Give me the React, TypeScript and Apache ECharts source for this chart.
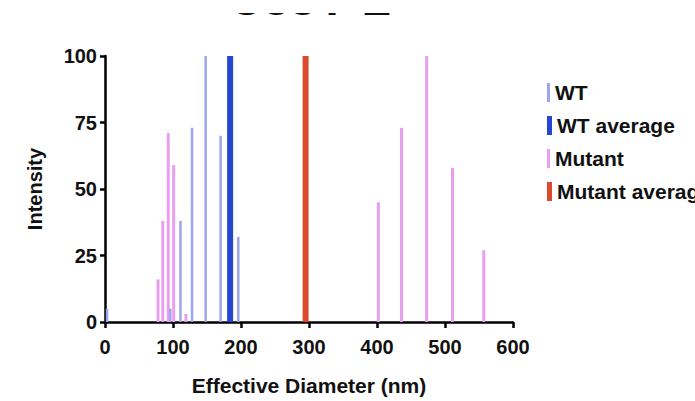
import React, { useEffect, useRef } from "react";
import * as echarts from "echarts";

const TITLE = "C33Y-L";
const X_TICKS = [0, 100, 200, 300, 400, 500, 600];
const Y_TICKS = [0, 25, 50, 75, 100];
const wtDiameter = [3, 96, 111, 128, 148, 170, 196];
const wtIntensity = [5, 5, 38, 73, 100, 70, 32];
const wtAvgDiameter = [184];
const wtAvgIntensity = [100];
const mutDiameter = [78, 85, 93, 101, 119, 402, 436, 473, 511, 557];
const mutIntensity = [16, 38, 71, 59, 3, 45, 73, 100, 58, 27];
const mutAvgDiameter = [295];
const mutAvgIntensity = [100];

const FONT = "'Liberation Sans', Arial, Helvetica, sans-serif";

function pairs(xs: number[], ys: number[]) {
  return xs.map((x, i) => [x, ys[i]]);
}

function barSeries(name: string, data: number[][], color: string, w: number, z: number) {
  return {
    type: "custom",
    name,
    data,
    z,
    encode: { x: 0, y: 1 },
    itemStyle: { color },
    renderItem: (params: any, api: any) => {
      const x = api.value(0);
      const y = api.value(1);
      const top = api.coord([x, y]);
      const base = api.coord([x, 0]);
      return {
        type: "rect",
        shape: { x: top[0] - w / 2, y: top[1], width: w, height: base[1] - top[1] },
        style: { fill: color },
      };
    },
  };
}

export default function App() {
  const ref = useRef<HTMLDivElement>(null);
  useEffect(() => {
    if (!ref.current) return;
    const chart = echarts.init(ref.current, null, { renderer: "svg" });
    const legendBase = {
      orient: "vertical",
      left: 542,
      itemGap: 14,
      itemHeight: 19,
      textStyle: { fontFamily: FONT, fontSize: 21, fontWeight: "bold", color: "#111" },
      icon: "rect",
    };
    chart.setOption({
      animation: false,
      backgroundColor: "#fff",
      graphic: [
        {
          type: "text",
          left: 228,
          top: -26,
          z: 1,
          style: {
            text: TITLE,
            font: `bold 48px ${FONT}`,
            fill: "#111",
          },
        },
        {
          type: "rect",
          left: 200,
          top: 0,
          z: 2,
          shape: { width: 230, height: 13 },
          style: { fill: "#fff" },
        },
      ],
      grid: { left: 105, right: 182, top: 56, bottom: 74, containLabel: false },
      legend: [
        { ...legendBase, top: 77, itemWidth: 3, data: ["WT"] },
        { ...legendBase, top: 110, itemWidth: 5, data: ["WT average"] },
        { ...legendBase, top: 143, itemWidth: 3, data: ["Mutant"] },
        { ...legendBase, top: 176, itemWidth: 5, data: ["Mutant average"] },
      ],
      xAxis: {
        type: "value",
        min: X_TICKS[0],
        max: X_TICKS[X_TICKS.length - 1],
        interval: 100,
        name: "Effective Diameter (nm)",
        nameLocation: "middle",
        nameGap: 53,
        nameTextStyle: { fontFamily: FONT, fontSize: 21, fontWeight: "bold", color: "#111" },
        axisLine: { show: true, onZero: false, lineStyle: { color: "#000", width: 2.5 } },
        axisTick: { show: true, length: 6, lineStyle: { color: "#000", width: 2.5 } },
        axisLabel: { margin: 15, fontFamily: FONT, fontSize: 20, fontWeight: "bold", color: "#111" },
        splitLine: { show: false },
      },
      yAxis: {
        type: "value",
        min: Y_TICKS[0],
        max: Y_TICKS[Y_TICKS.length - 1],
        interval: 25,
        name: "Intensity",
        nameLocation: "middle",
        nameGap: 60,
        nameTextStyle: { fontFamily: FONT, fontSize: 20, fontWeight: "bold", color: "#111" },
        axisLine: { show: true, onZero: false, lineStyle: { color: "#000", width: 2.5 } },
        axisTick: { show: true, length: 5, lineStyle: { color: "#000", width: 2.5 } },
        axisLabel: { margin: 8, fontFamily: FONT, fontSize: 20, fontWeight: "bold", color: "#111" },
        splitLine: { show: false },
      },
      series: [
        barSeries("Mutant", pairs(mutDiameter, mutIntensity), "#e99ef0", 3, 2),
        barSeries("WT", pairs(wtDiameter, wtIntensity), "#9ea5ec", 2.5, 3),
        barSeries("WT average", pairs(wtAvgDiameter, wtAvgIntensity), "#2446d0", 6, 4),
        barSeries("Mutant average", pairs(mutAvgDiameter, mutAvgIntensity), "#dc4a2e", 6, 4),
      ],
    });
    return () => chart.dispose();
  }, []);
  return (
    <div
      ref={ref}
      style={{ position: "fixed", left: 0, top: 0, width: 695, height: 401 }}
    />
  );
}
